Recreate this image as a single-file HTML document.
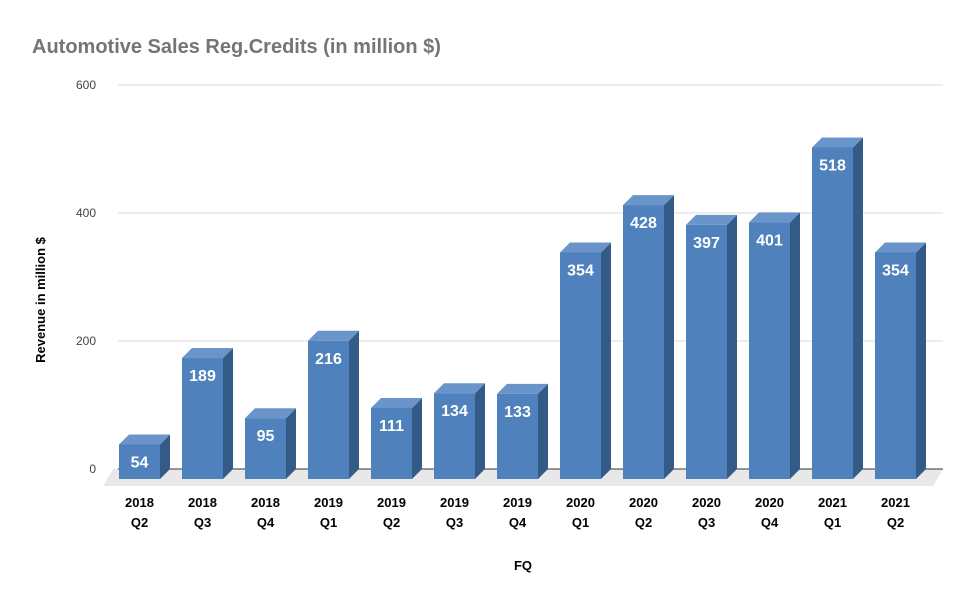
<!DOCTYPE html>
<html><head><meta charset="utf-8"><style>
body{margin:0;background:#fff;}
svg{display:block;font-family:"Liberation Sans",Arial,sans-serif;}
</style></head><body>
<svg id="chart" width="975" height="603" viewBox="0 0 975 603">
<text x="32" y="53" font-size="20" font-weight="bold" fill="#757575">Automotive Sales Reg.Credits (in million $)</text>
<polygon points="113,469 943,469 933,486 103,486" fill="#e8e8e8"/>
<g id="grid"></g>
<g id="bars"></g>
<g id="xlabels"></g>
<text x="45" y="300" font-size="13" font-weight="bold" fill="#000" text-anchor="middle" transform="rotate(-90 45 300)">Revenue in million $</text>
<text x="523" y="570" font-size="13" font-weight="bold" fill="#000" text-anchor="middle">FQ</text>
</svg>
<script>
const categories=["2018 Q2","2018 Q3","2018 Q4","2019 Q1","2019 Q2","2019 Q3","2019 Q4","2020 Q1","2020 Q2","2020 Q3","2020 Q4","2021 Q1","2021 Q2"];
const values=[54,189,95,216,111,134,133,354,428,397,401,518,354];
const yTicks=[0,200,400,600];
const NS="http://www.w3.org/2000/svg";
const baseY=469, scale=0.64, depth=10;
function y(v){return baseY - v*scale;}
function xb(i){return 119+i*63;}
const bw=41;
function mk(tag,attrs,parent){const e=document.createElementNS(NS,tag);for(const k in attrs)e.setAttribute(k,attrs[k]);parent.appendChild(e);return e;}
const grid=document.getElementById('grid');
yTicks.forEach(t=>{
  const l=mk('line',{x1:118,x2:943,y1:y(t),y2:y(t),stroke:t===0?'#333':'#d9d9d9','stroke-width':1},grid);
  
  
  const tx=mk('text',{x:96,y:y(t)+4,'font-size':12,fill:'#444','text-anchor':'end'},grid);
  tx.textContent=t;
  
  
});
const bars=document.getElementById('bars');
const xl=document.getElementById('xlabels');
values.forEach((v,i)=>{
  const g=mk('g',{},bars);
  
  
  const x0=xb(i), top=y(v)+depth, bot=baseY+depth;
  mk('polygon',{points:`${x0+bw},${top} ${x0+bw+depth},${top-depth} ${x0+bw+depth},${bot-depth} ${x0+bw},${bot}`,fill:'#345a87'},g);
  mk('polygon',{points:`${x0},${top} ${x0+depth},${top-depth} ${x0+bw+depth},${top-depth} ${x0+bw},${top}`,fill:'#6a95cb'},g);
  mk('rect',{x:x0,y:top,width:bw,height:bot-top,fill:'#4f81bd'},g);
  const t=mk('text',{x:x0+bw/2,y:top+23,'font-size':16,'font-weight':'bold',fill:'#fff','text-anchor':'middle'},g);
  t.textContent=v;
  
  
  const parts=categories[i].split(' ');
  parts.forEach((p,j)=>{
    const lt=mk('text',{x:x0+bw/2,y:507+j*20,'font-size':13,'font-weight':'bold',fill:'#000','text-anchor':'middle'},xl);
    lt.textContent=p;
    
    
  });
});
</script>
</body></html>
